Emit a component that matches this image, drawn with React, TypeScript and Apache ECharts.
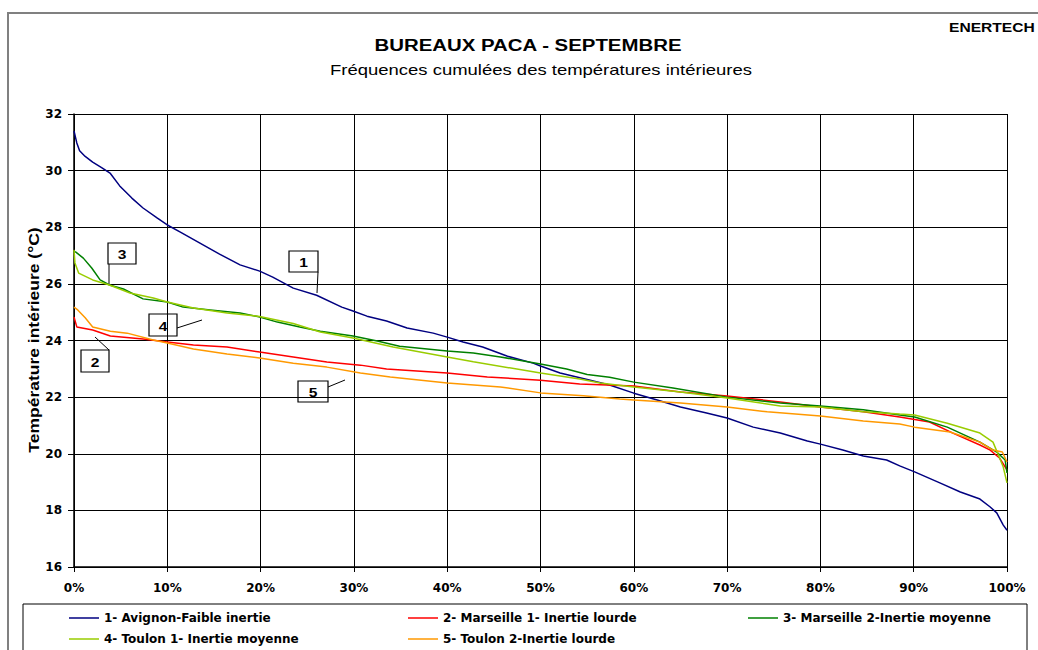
import React, { useEffect, useRef } from "react";
import * as echarts from "echarts";

const seriesNames = [
  "1- Avignon-Faible inertie",
  "2- Marseille 1- Inertie lourde",
  "3- Marseille 2-Inertie moyenne",
  "4- Toulon 1- Inertie moyenne",
  "5- Toulon 2-Inertie lourde",
];
const seriesColors = ["#000080", "#ff0000", "#008000", "#99cc00", "#ff9900"];

const xTicks = [0, 10, 20, 30, 40, 50, 60, 70, 80, 90, 100];
const yTicks = [16, 18, 20, 22, 24, 26, 28, 30, 32];

const avignonX = [0, 0.3, 0.6, 1.2, 2, 3, 3.9, 4.9, 6.2, 7.4, 8.9, 10, 11.4, 13.5, 15.6, 17.8, 19.9, 21.3, 23.5, 26, 28.7, 29.9, 31.4, 33.5, 35.7, 38.5, 40, 41.7, 43.8, 46.4, 49.2, 50, 52.1, 55, 57.4, 60, 62.5, 65, 67.8, 70, 72.8, 75.7, 78.6, 80, 82.4, 84.6, 87.1, 88.5, 90.1, 92.8, 95, 97.1, 98.2, 98.9, 99.6, 100];
const avignonY = [31.4, 30.98, 30.7, 30.5, 30.3, 30.1, 29.9, 29.46, 29.03, 28.68, 28.33, 28.08, 27.83, 27.44, 27.05, 26.67, 26.45, 26.24, 25.85, 25.6, 25.18, 25.04, 24.86, 24.69, 24.44, 24.26, 24.12, 23.95, 23.77, 23.45, 23.2, 23.1, 22.85, 22.62, 22.43, 22.14, 21.9, 21.65, 21.44, 21.26, 20.94, 20.73, 20.45, 20.34, 20.13, 19.92, 19.78, 19.57, 19.36, 18.97, 18.65, 18.4, 18.12, 17.91, 17.48, 17.3];

const marseille1X = [0, 0.3, 2, 3.9, 7.4, 10, 12.8, 16.4, 19.9, 23.5, 27.1, 30.7, 33.5, 40, 44.3, 50, 54.2, 60, 65, 70, 75.7, 80, 84.6, 88.5, 91.7, 94.2, 97.1, 98.2, 99.2, 100];
const marseille1Y = [24.83, 24.48, 24.37, 24.16, 24.05, 23.95, 23.84, 23.77, 23.59, 23.42, 23.24, 23.13, 22.99, 22.85, 22.71, 22.6, 22.46, 22.39, 22.18, 22.04, 21.83, 21.65, 21.48, 21.3, 21.12, 20.73, 20.31, 20.13, 19.85, 19.43];

const marseille2X = [0, 0.2, 1, 1.9, 2.8, 3.8, 5.3, 7.4, 10, 11.7, 14.6, 17.8, 19.9, 21.8, 24.2, 26.4, 29.9, 32.5, 34.9, 40, 42.8, 45.7, 50, 52.8, 55, 57.4, 60, 64.2, 70, 75.7, 80, 84.6, 88.5, 90.1, 93.6, 97.1, 98.9, 99.8, 100];
const marseille2Y = [27.15, 27.12, 26.91, 26.56, 26.14, 25.96, 25.82, 25.47, 25.36, 25.18, 25.08, 24.97, 24.83, 24.65, 24.48, 24.33, 24.16, 23.98, 23.8, 23.63, 23.56, 23.42, 23.17, 22.99, 22.8, 22.7, 22.53, 22.32, 22.0, 21.79, 21.69, 21.55, 21.37, 21.3, 20.94, 20.41, 20.06, 19.78, 19.32];

const toulon1X = [0, 0.1, 0.5, 2, 3.8, 6, 8.5, 10, 12.8, 16.4, 19.9, 23.5, 26.4, 29.9, 34.2, 40, 42.8, 50, 54.2, 56.4, 60, 65, 70, 75.7, 80, 84.6, 88.5, 90.1, 93.6, 97.1, 98.5, 99, 99.6, 100];
const toulon1Y = [27.2, 26.74, 26.38, 26.14, 25.96, 25.68, 25.5, 25.36, 25.15, 24.97, 24.85, 24.6, 24.3, 24.09, 23.77, 23.42, 23.25, 22.85, 22.64, 22.5, 22.36, 22.18, 21.97, 21.69, 21.65, 21.48, 21.4, 21.37, 21.08, 20.73, 20.41, 20.02, 19.53, 18.97];

const toulon2X = [0, 0.4, 1.2, 2, 3.9, 5.7, 8.5, 10, 12.8, 16.4, 19.9, 23.5, 27.1, 30.7, 33.9, 40, 45.7, 50, 54.6, 58.5, 60, 65, 70, 74.3, 80, 84.6, 88.5, 90.1, 93.9, 97.1, 98.5, 99.5, 100];
const toulon2Y = [25.18, 25.08, 24.8, 24.48, 24.33, 24.26, 24.02, 23.91, 23.7, 23.52, 23.38, 23.2, 23.06, 22.85, 22.71, 22.5, 22.36, 22.15, 22.05, 21.93, 21.9, 21.79, 21.65, 21.48, 21.33, 21.16, 21.05, 20.94, 20.77, 20.41, 20.13, 20.06, 19.71];

const seriesX = [avignonX, marseille1X, marseille2X, toulon1X, toulon2X];
const seriesY = [avignonY, marseille1Y, marseille2Y, toulon1Y, toulon2Y];

const labelFont = "DejaVu Sans";
const titleFont = "Liberation Sans";

function callout(label: string, x: number, y: number, w: number, h: number) {
  return {
    type: "group",
    children: [
      { type: "rect", shape: { x, y, width: w, height: h }, style: { fill: "#fff", stroke: "#000", lineWidth: 1.2 } },
      {
        type: "text",
        x: x + w / 2,
        y: y + h / 2 + 1,
        scaleX: 1.2,
        style: { text: label, fill: "#000", font: `bold 13px ${titleFont}`, textAlign: "center", textVerticalAlign: "middle" },
      },
    ],
  };
}

function leader(x1: number, y1: number, x2: number, y2: number) {
  return { type: "line", shape: { x1, y1, x2, y2 }, style: { stroke: "#000", lineWidth: 1 } };
}

export default function App() {
  const ref = useRef<HTMLDivElement>(null);
  useEffect(() => {
    if (!ref.current) return;
    const chart = echarts.init(ref.current, undefined, { renderer: "svg" });
    const series = seriesNames.map((name, i) => ({
      name,
      type: "line",
      data: seriesX[i].map((x, j) => [x, seriesY[i][j]]),
      symbol: "none",
      showSymbol: false,
      lineStyle: { color: seriesColors[i], width: 1.5 },
      itemStyle: { color: seriesColors[i] },
      z: 3,
    }));
    const legendPos = [
      [69, 612],
      [408, 612],
      [748, 612],
      [69, 633],
      [408, 633],
    ];
    const legends = seriesNames.map((name, i) => ({
      orient: "horizontal",
      left: legendPos[i][0],
      top: legendPos[i][1],
      padding: 0,
      icon: "rect",
      itemWidth: 30,
      itemHeight: 1.5,
      data: [name],
      textStyle: { fontFamily: labelFont, fontWeight: "bold", fontSize: 12, color: "#000" },
    }));
    chart.setOption({
      animation: false,
      backgroundColor: "#fff",
      grid: { left: 74, right: 31, top: 114, bottom: 83 },
      xAxis: {
        type: "value",
        min: 0,
        max: 100,
        interval: 10,
        axisLine: { lineStyle: { color: "#000", width: 1.5 } },
        axisTick: { show: true, length: 5, lineStyle: { color: "#000" } },
        axisLabel: {
          formatter: (v: number) => (xTicks.includes(v) ? `${v}%` : ""),
          fontFamily: labelFont,
          fontWeight: "bold",
          fontSize: 12,
          color: "#000",
          margin: 15,
        },
        splitLine: { show: true, lineStyle: { color: "#000", width: 1 } },
      },
      yAxis: {
        type: "value",
        min: 16,
        max: 32,
        interval: 2,
        axisLine: { show: true, lineStyle: { color: "#000", width: 1.5 } },
        axisTick: { show: true, length: 6, lineStyle: { color: "#000" } },
        axisLabel: {
          formatter: (v: number) => (yTicks.includes(v) ? String(v) : ""),
          fontFamily: labelFont,
          fontWeight: "bold",
          fontSize: 12,
          color: "#000",
          margin: 12,
        },
        splitLine: { show: true, lineStyle: { color: "#000", width: 1 } },
      },
      legend: legends,
      graphic: [
        { type: "rect", z: -10, shape: { x: 8, y: 13, width: 1100, height: 700 }, style: { fill: "none", stroke: "#808080", lineWidth: 2 } },
        { type: "rect", z: -9, shape: { x: 23, y: 604, width: 1004, height: 60 }, style: { fill: "none", stroke: "#000", lineWidth: 1 } },
        {
          type: "text",
          x: 528,
          y: 45,
          scaleX: 1.2,
          style: { text: "BUREAUX PACA - SEPTEMBRE", fill: "#000", font: `bold 17px ${titleFont}`, textAlign: "center", textVerticalAlign: "middle" },
        },
        {
          type: "text",
          x: 541,
          y: 70,
          scaleX: 1.2,
          style: { text: "Fréquences cumulées des températures intérieures", fill: "#000", font: `15.4px ${titleFont}`, textAlign: "center", textVerticalAlign: "middle" },
        },
        {
          type: "text",
          x: 949,
          y: 27,
          scaleX: 1.2,
          style: { text: "ENERTECH", fill: "#000", font: `bold 13px ${titleFont}`, textAlign: "left", textVerticalAlign: "middle" },
        },
        {
          type: "text",
          x: 33,
          y: 340,
          rotation: Math.PI / 2,
          scaleX: 1.25,
          scaleY: 1.1,
          style: { text: "Température intérieure (°C)", fill: "#000", font: `bold 14px ${titleFont}`, textAlign: "center", textVerticalAlign: "middle" },
        },
        leader(318, 272, 317, 293),
        callout("1", 289, 251, 29, 21),
        leader(109, 264, 109, 285),
        callout("3", 108, 243, 28, 21),
        leader(177, 328, 202, 320),
        callout("4", 149, 314, 28, 22),
        leader(109, 350, 95, 337),
        callout("2", 81, 350, 28, 22),
        leader(328, 387, 345, 380),
        callout("5", 298, 381, 30, 21),
      ],
      series,
    });
    return () => chart.dispose();
  }, []);
  return <div ref={ref} style={{ position: "absolute", left: 0, top: 0, width: 1038, height: 650 }} />;
}
